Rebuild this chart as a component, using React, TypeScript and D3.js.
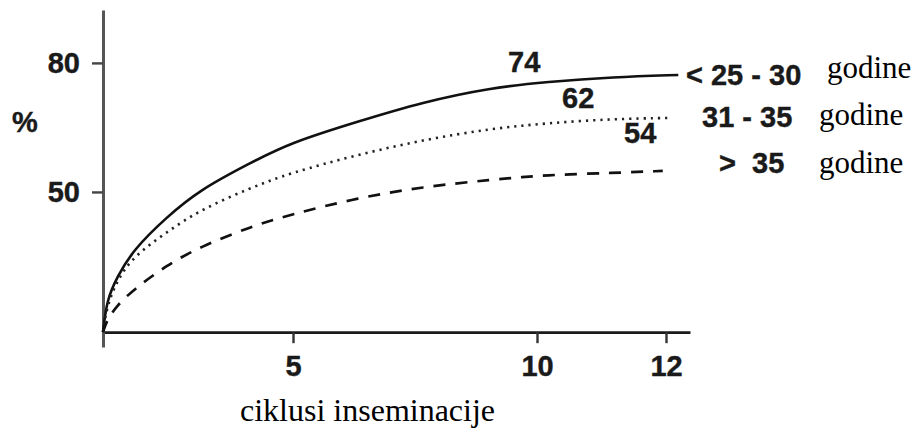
import React, { useEffect, useRef } from "react";
import * as d3 from "d3";

// ---- data ----
const cycles = [0, 0.1, 0.37, 0.79, 1.68, 2.55, 3.87, 4.92, 6.31, 7.66, 9.04, 10.16, 11.18];
const endCycle = [12.19, 12.09, 11.95];
const ageGroups = ["< 25 - 30", "31 - 35", ">  35"];
const yearsWord = "godine";
const youngValues = [17.4, 24.9, 30.2, 36.5, 44.2, 50.5, 56.7, 61.4, 66.3, 70.9, 74.2, 75.6, 76.7, 77.2];
const middleValues = [17.4, 23.3, 29.5, 34.9, 40.7, 45.8, 50.9, 54.4, 58.6, 62.1, 64.7, 66.0, 67.0, 67.2];
const olderValues = [17.4, 20.2, 23.6, 27.2, 33.0, 37.2, 41.9, 44.7, 48.6, 51.2, 52.8, 54.0, 54.4, 54.9];
const endLabels = ["74", "62", "54"];
const xTicks = [5, 10, 12];
const yTicks = [50, 80];
const yLabel = "%";
const xLabel = "ciklusi inseminacije";

const SANS = "'Liberation Sans', Arial, sans-serif";
const SERIF = "'Liberation Serif', 'Times New Roman', serif";
const BOLD_SIZE = 29;

export default function App() {
  const ref = useRef<SVGSVGElement | null>(null);

  useEffect(() => {
    const svg = d3.select(ref.current);
    svg.selectAll("*").remove();

    // x axis is drawn non-uniformly in the reference -> piecewise linear scale
    const x = d3.scaleLinear().domain([0, 5, 10, 12, 12.37]).range([103, 293, 537, 666, 690]);
    const y = d3.scaleLinear().domain([13.95, 92.3]).range([347, 10]);
    const yBase = 17.4;

    const boldText = (sel: any) =>
      sel
        .attr("font-family", SANS)
        .attr("font-weight", "bold")
        .attr("font-size", BOLD_SIZE)
        .attr("fill", "#1a1a1a")
        .attr("stroke", "#1a1a1a")
        .attr("stroke-width", 0.4);

    // x axis
    const gx = svg.append("g").attr("transform", `translate(0,${y(yBase)})`);
    gx.call(
      d3.axisBottom(x).tickValues(xTicks).tickSize(11).tickSizeOuter(0).tickPadding(12).tickFormat(d3.format("d")) as any
    );
    gx.select(".domain").attr("stroke", "#1a1a1a").attr("stroke-width", 2.6);
    gx.selectAll(".tick line").attr("stroke", "#333").attr("stroke-width", 2.4);
    boldText(gx.selectAll(".tick text"));

    // y axis
    const gy = svg.append("g").attr("transform", `translate(${x(0)},0)`);
    gy.call(d3.axisLeft(y).tickValues(yTicks).tickSize(11).tickSizeOuter(0).tickPadding(12) as any);
    gy.select(".domain").attr("stroke", "#555").attr("stroke-width", 3);
    gy.selectAll(".tick line").attr("stroke", "#444").attr("stroke-width", 2.4);
    boldText(gy.selectAll(".tick text"));

    boldText(svg.append("text").attr("x", 12).attr("y", 132).text(yLabel));

    svg
      .append("text")
      .attr("x", 240)
      .attr("y", 421)
      .attr("font-family", SERIF)
      .attr("font-size", 32)
      .attr("fill", "#000")
      .text(xLabel);

    // curves
    const series = [
      { values: youngValues, dash: null, width: 2.6, color: "#111" },
      { values: middleValues, dash: "2.2 5", width: 2.6, color: "#222" },
      { values: olderValues, dash: "12 10", width: 2.7, color: "#111" },
    ];
    const line = d3
      .line<[number, number]>()
      .x((d) => x(d[0]))
      .y((d) => y(d[1]))
      .curve(d3.curveBasis);

    series.forEach((s, i) => {
      const xs = [...cycles, endCycle[i]];
      const pts: [number, number][] = xs.map((c, k) => [c, s.values[k]]);
      const p = svg
        .append("path")
        .attr("d", line(pts))
        .attr("fill", "none")
        .attr("stroke", s.color)
        .attr("stroke-width", s.width);
      if (s.dash) p.attr("stroke-dasharray", s.dash);
    });

    // value annotations
    const labelPos = [
      [508, 72],
      [562, 108],
      [624, 143],
    ];
    endLabels.forEach((t, i) => {
      boldText(svg.append("text").attr("x", labelPos[i][0]).attr("y", labelPos[i][1]).text(t));
    });

    // legend
    const legendPos = [
      [686, 85, 827, 78],
      [702, 127, 819, 125],
      [719, 173, 819, 173],
    ];
    ageGroups.forEach((g, i) => {
      boldText(
        svg
          .append("text")
          .attr("x", legendPos[i][0])
          .attr("y", legendPos[i][1])
          .style("white-space", "pre")
          .text(g)
      );
      svg
        .append("text")
        .attr("x", legendPos[i][2])
        .attr("y", legendPos[i][3])
        .attr("font-family", SERIF)
        .attr("font-size", 31)
        .attr("fill", "#000")
        .text(yearsWord);
    });
  }, []);

  return (
    <svg
      ref={ref}
      width={916}
      height={430}
      style={{ position: "absolute", left: 0, top: 0, background: "#fff" }}
    />
  );
}
